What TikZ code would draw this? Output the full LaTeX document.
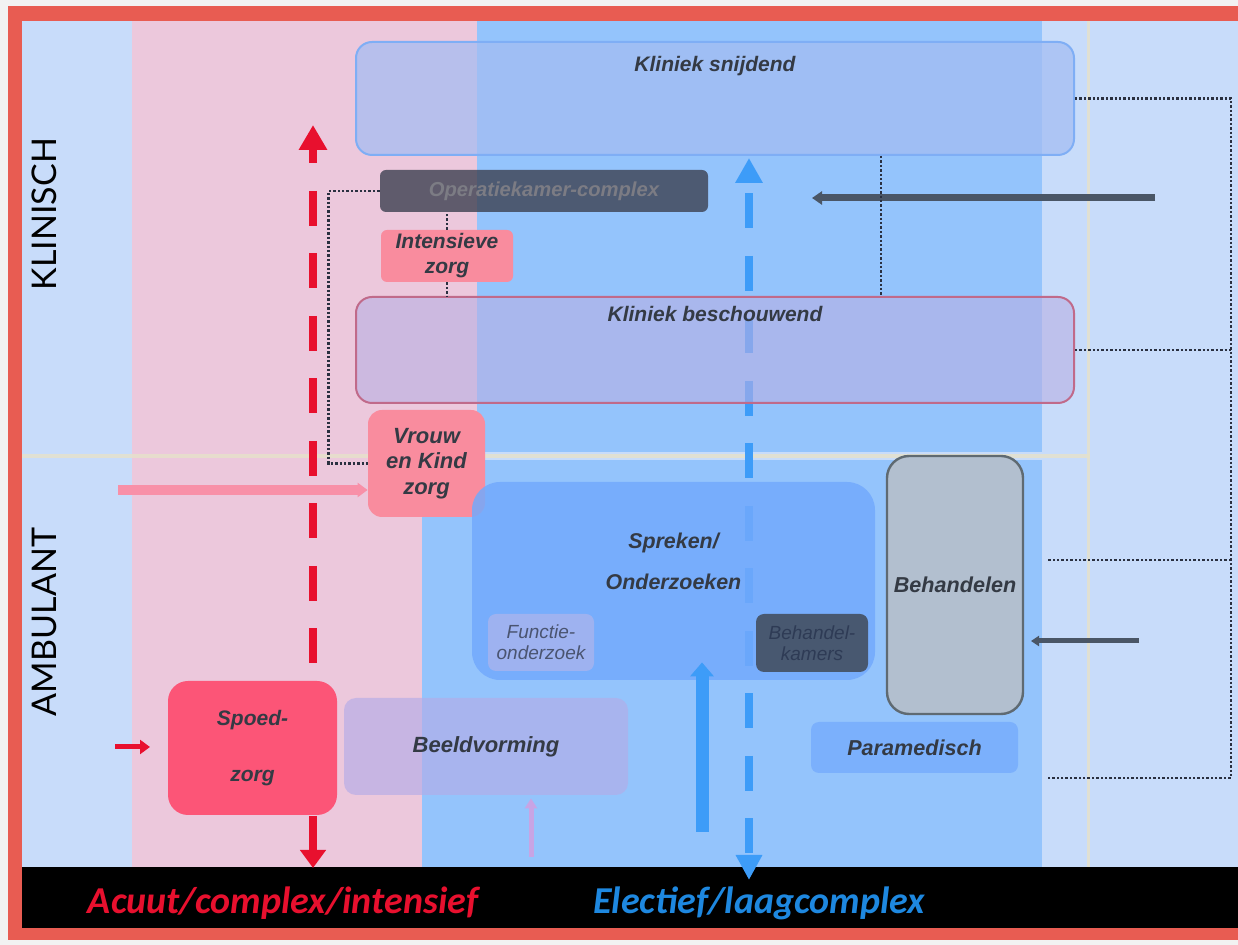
\documentclass[tikz,border=0pt]{standalone}
\usepackage{fontspec}
\setmainfont{Liberation Sans}
\newfontfamily\sidefont{Lato}
\newfontfamily\bandfont{Carlito}
\usetikzlibrary{arrows.meta,positioning}
\definecolor{outergrey}{HTML}{F2F2F2}
\definecolor{framered}{HTML}{E85C52}
\definecolor{paleblue}{HTML}{C8DCFA}
\definecolor{palepink}{HTML}{ECC8DC}
\definecolor{midblue}{HTML}{94C4FC}
\definecolor{beige}{HTML}{E6E2CA}
\definecolor{inkgrey}{HTML}{343A44}
\definecolor{snijdfill}{HTML}{A4BDF2}
\definecolor{snijdline}{HTML}{7FAEF5}
\definecolor{beschfill}{HTML}{B8AFE4}
\definecolor{beschline}{HTML}{C06A8A}
\definecolor{okfill}{HTML}{3C4050}
\definecolor{oktext}{HTML}{7C7C84}
\definecolor{rosebox}{HTML}{F98C9E}
\definecolor{spoedred}{HTML}{FC5577}
\definecolor{spreekblue}{HTML}{73AAFC}
\definecolor{functiefill}{HTML}{9EB2F0}
\definecolor{functietext}{HTML}{4A5470}
\definecolor{kamerfill}{HTML}{485870}
\definecolor{kamertext}{HTML}{2E3B55}
\definecolor{behfill}{HTML}{B2BFCF}
\definecolor{behline}{HTML}{5F6A72}
\definecolor{parablue}{HTML}{7BB0FC}
\definecolor{beeldfill}{HTML}{B4ACE8}
\definecolor{acuutred}{HTML}{E8102E}
\definecolor{electblue}{HTML}{3D9CF8}
\definecolor{bandblue}{HTML}{1E88E0}
\definecolor{pinkarrow}{HTML}{F890A8}
\definecolor{lilac}{HTML}{C8A4E4}
\definecolor{slatearrow}{HTML}{4A5666}
\definecolor{dotgrey}{HTML}{2A3040}
\newcommand{\unitfont}{\bfseries\itshape\fontsize{10.5}{12.5}\selectfont}
\newcommand{\smallunitfont}{\itshape\fontsize{9.5}{10.5}\selectfont}

\begin{document}
\begin{tikzpicture}[x=0.5pt,y=-0.5pt,
    unit/.style={rectangle, inner sep=0pt, align=center, text=inkgrey, font=\unitfont},
    dotlink/.style={draw=dotgrey, line width=1.3pt, dash pattern=on 1.2pt off 1pt},
    flowline/.style={line width=4pt, dash pattern=on 17.5pt off 13.75pt}]
    \useasboundingbox (0,0) rectangle (1238,945);

    % Achtergrond en kolommen
    \fill[outergrey] (0,0) rectangle (1238,945);
    \fill[framered] (8,6) rectangle (1238,940);
    \fill[paleblue] (22,21) rectangle (1238,867);
    \fill[palepink] (132,21) rectangle (477,456);
    \fill[palepink] (132,456) rectangle (422,867);
    \fill[midblue] (477,21) rectangle (1042,452);
    \fill[midblue] (422,460) rectangle (1042,867);
    \draw[beige, line width=2pt, opacity=0.8] (22,456) -- (1090,456);
    \draw[beige, line width=1.5pt, opacity=0.8] (1088,21) -- (1088,867);
    \fill[black] (22,867) rectangle (1238,928);

    \node[rotate=90, font=\sidefont\fontsize{17}{17}\selectfont] (klinisch) at (44,214) {KLINISCH};
    \node[rotate=90, font=\sidefont\fontsize{17}{17}\selectfont] (ambulant) at (44,622) {AMBULANT};
    \node[font=\bandfont\bfseries\itshape\fontsize{19}{19}\selectfont, text=acuutred] (acuut) at (283,903) {Acuut/complex/intensief};
    \node[font=\bandfont\bfseries\itshape\fontsize{19}{19}\selectfont, text=bandblue] (electief) at (759,903) {Electief/laagcomplex};

    % Stromen
    \coordinate (acuuttop) at (313,125);
    \coordinate (acuutend) at (313,868);
    \coordinate (electtop) at (749,158);
    \coordinate (electend) at (749,880);
    \draw[flowline, acuutred, dash phase=10pt, {Triangle[length=12.5pt,width=13.5pt]}-{Triangle[length=9pt,width=12.5pt]}] (acuuttop) -- (acuutend);
    \draw[flowline, electblue, dash phase=25.25pt, {Triangle[length=12.5pt,width=13pt]}-{Triangle[length=12.5pt,width=12.5pt]}] (electtop) -- (electend);

    % Klinisch
    \node[unit, draw=snijdline, line width=1pt, fill=snijdfill, fill opacity=0.73, rounded corners=8pt, minimum width=359pt, minimum height=56.5pt,
        label={[unit, anchor=base, yshift=-15.5pt]north:Kliniek snijdend}] (ks) at (715,98.5) {};
    \node[unit, draw=beschline, line width=1pt, fill=beschfill, fill opacity=0.6, rounded corners=8pt, minimum width=359pt, minimum height=53pt,
        label={[unit, anchor=base, yshift=-13pt]north:Kliniek beschouwend}] (kb) at (715,350) {};
    \node[unit, fill=okfill, fill opacity=0.8, text opacity=1, text=oktext, rounded corners=3pt, minimum width=164pt, minimum height=21pt, font=\bfseries\itshape\fontsize{10.1}{12}\selectfont] (ok) at (544,191) {Operatiekamer-complex};
    \node[unit, fill=rosebox, rounded corners=3pt, minimum width=66pt, minimum height=26pt] (iz) at (447,256) {Intensieve\\zorg};
    \node[unit, fill=rosebox, rounded corners=7pt, minimum width=58.5pt, minimum height=53.5pt, font=\bfseries\itshape\fontsize{11}{12.75}\selectfont] (vk) at (426.5,463.5) {Vrouw\\en Kind\\zorg};

    % Ambulant
    \node[unit, fill=spreekblue, fill opacity=0.85, rounded corners=14pt, minimum width=201.5pt, minimum height=99pt,
        label={[unit, align=center, yshift=9.75pt, font=\bfseries\itshape\fontsize{10.7}{20.5}\selectfont]center:Spreken/\\Onderzoeken}] (so) at (673.5,581) {};
    \node[unit, fill=functiefill, rounded corners=4pt, minimum width=53pt, minimum height=28.5pt, text=functietext, font=\smallunitfont] (fo) at (541,642.5) {Functie-\\onderzoek};
    \node[unit, fill=kamerfill, rounded corners=4pt, minimum width=56pt, minimum height=29pt, text=kamertext, font=\smallunitfont] (bk) at (812,643) {Behandel-\\kamers};
    \node[unit, draw=behline, line width=1.2pt, fill=behfill, rounded corners=11pt, minimum width=68pt, minimum height=129pt, font=\bfseries\itshape\fontsize{10.8}{12.5}\selectfont] (bh) at (955,585) {Behandelen};
    \node[unit, fill=parablue, rounded corners=4pt, minimum width=103.5pt, minimum height=25.5pt, font=\bfseries\itshape\fontsize{10.8}{12.5}\selectfont] (pm) at (914.5,747.5) {Paramedisch};
    \node[unit, fill=beeldfill, fill opacity=0.65, text opacity=1, rounded corners=6pt, minimum width=142pt, minimum height=48.5pt, font=\bfseries\itshape\fontsize{11}{12.5}\selectfont] (bv) at (486,746.5) {Beeldvorming};
    \node[unit, fill=spoedred, rounded corners=10pt, minimum width=84.5pt, minimum height=67pt, font=\bfseries\itshape\fontsize{10.5}{28}\selectfont] (sz) at (252.5,748) {Spoed-\\zorg};

    % Instroom
    \coordinate (vkin) at (118,490);
    \coordinate (spoedin) at (115,747);
    \coordinate (beeldin) at (531,857);
    \coordinate (electup) at (702,832);
    \coordinate (okfeed) at (1155,198);
    \coordinate (behfeed) at (1139,641);
    \draw[pinkarrow, line width=5pt, -{Triangle[length=5pt,width=7pt]}] (vkin) -- (vkin -| vk.west);
    \draw[acuutred, line width=2.5pt, -{Triangle[length=5pt,width=7pt]}] (spoedin) -- ++(35,0);
    \draw[lilac, line width=2.5pt, -{Triangle[length=5pt,width=6pt]}] (beeldin) -- ([yshift=-1.5pt]beeldin |- bv.south);
    \draw[electblue, line width=6.5pt, -{Triangle[length=7pt,width=11.5pt]}] (electup) -- ([yshift=9pt]electup |- so.south);
    \draw[slatearrow, line width=3.5pt, -{Triangle[length=5pt,width=6.5pt]}] (okfeed) -- ++(-343,0);
    \draw[slatearrow, line width=2.5pt, -{Triangle[length=4pt,width=5pt]}] (behfeed) -- ++(-108,0);

    % Verbindingen
    \draw[dotlink] (ok.west) -- ++(-51,0) |- (vk.west);
    \draw[dotlink] (iz.north) -- (iz.north |- ok.south);
    \draw[dotlink] (iz.south) -- (iz.south |- kb.north);
    \draw[dotlink] ([xshift=83pt]ks.south) -- ([xshift=83pt]kb.north);
    \coordinate (railtop) at (1231,98.5);
    \coordinate (railmid) at (1231,560);
    \coordinate (railend) at (1231,778);
    \draw[dotlink] (ks.east) -- (railtop) -- (railend) -- ++(-184,0);
    \draw[dotlink] (kb.east) -- (kb.east -| railtop);
    \draw[dotlink] (railmid) -- ++(-184,0);
\end{tikzpicture}
\end{document}
